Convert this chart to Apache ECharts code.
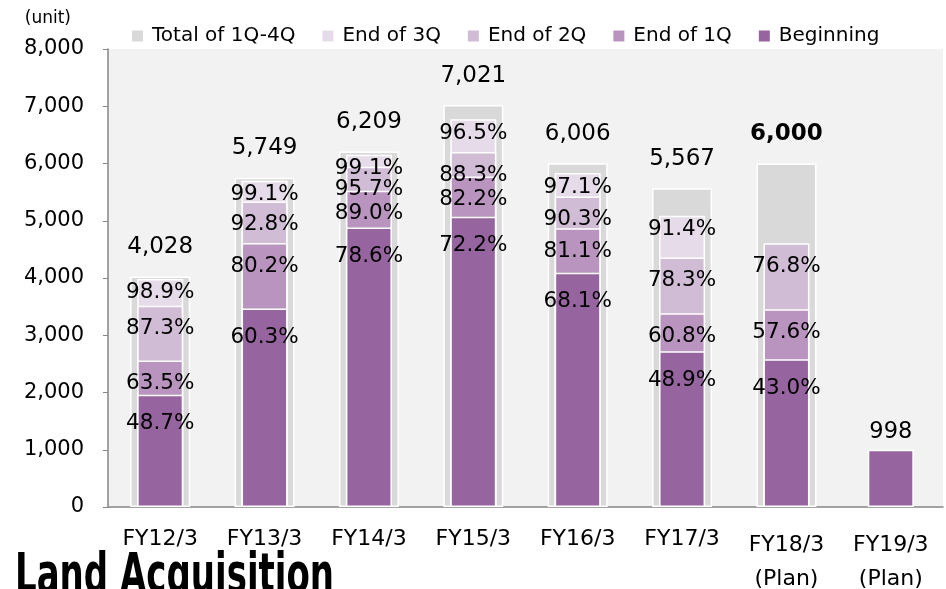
<!DOCTYPE html>
<html>
<head>
<meta charset="utf-8">
<script src="https://cdn.jsdelivr.net/npm/echarts@6/dist/echarts.min.js"></script>
<style>
  html, body { margin: 0; padding: 0; background: #fff; }
  #main { width: 946px; height: 589px; }
</style>
</head>
<body>
<div id="main"></div>
<script>
// categories and values
const categories = ['FY12/3', 'FY13/3', 'FY14/3', 'FY15/3', 'FY16/3', 'FY17/3', 'FY18/3\n(Plan)', 'FY19/3\n(Plan)'];
const totals = [4028, 5749, 6209, 7021, 6006, 5567, 6000, null];
// cumulative share of the year's total, in %
const pctBeginning = [48.7, 60.3, 78.6, 72.2, 68.1, 48.9, 43.0, null];
const pct1Q = [63.5, 80.2, 89.0, 82.2, 81.1, 60.8, 57.6, null];
const pct2Q = [87.3, 92.8, 95.7, 88.3, 90.3, 78.3, 76.8, null];
const pct3Q = [98.9, 99.1, 99.1, 96.5, 97.1, 91.4, null, null];
// FY19/3 only has units secured at the beginning
const beginningUnits = [null, null, null, null, null, null, null, 998];
const planIndex = 6; // FY18/3 total shown bold

const FONT = 'DejaVu Sans';
const colors = {
  total: '#d9d9d9',
  q3: '#e6dbe9',
  q2: '#d1bcd6',
  q1: '#b994bf',
  beg: '#96649e'
};

function units(pcts, i) {
  if (pcts[i] == null || totals[i] == null) return null;
  return Math.round(totals[i] * pcts[i] / 100);
}

function innerSeries(name, pcts, color, dist) {
  return {
    name: name,
    type: 'bar',
    xAxisIndex: 0,
    barWidth: 46,
    barGap: '-100%',
    itemStyle: { color: color, borderColor: '#fff', borderWidth: 1.5 },
    label: {
      show: true,
      position: 'insideTop',
      distance: dist,
      color: '#000',
      fontFamily: FONT,
      fontSize: 21.5,
      formatter: function (p) {
        const v = pcts[p.dataIndex];
        return v == null ? '' : v.toFixed(1) + '%';
      }
    },
    data: categories.map(function (c, i) { return units(pcts, i); })
  };
}

const begSeries = innerSeries('Beginning', pctBeginning, colors.beg, 18);
begSeries.data = categories.map(function (c, i) {
  if (beginningUnits[i] != null) {
    return {
      value: beginningUnits[i],
      label: { position: 'top', distance: 6, fontSize: 22.5, formatter: String(beginningUnits[i]) }
    };
  }
  return units(pctBeginning, i);
});

const chart = echarts.init(document.getElementById('main'));

const option = {
  animation: false,
  textStyle: { fontFamily: FONT },
  legend: {
    left: 125,
    top: 21,
    itemWidth: 13,
    itemHeight: 13,
    itemGap: 25,
    icon: 'rect',
    textStyle: { fontFamily: FONT, fontSize: 20, color: '#000', padding: [0, 0, 0, 3] },
    data: ['Total of 1Q-4Q', 'End of 3Q', 'End of 2Q', 'End of 1Q', 'Beginning']
  },
  grid: {
    left: 108,
    right: 3,
    top: 49,
    bottom: 82,
    outerBoundsMode: 'none',
    show: true,
    backgroundColor: '#f2f2f2',
    borderWidth: 0
  },
  xAxis: [
    {
      type: 'category',
      data: categories,
      axisLine: { lineStyle: { color: '#868686', width: 1.5 } },
      axisTick: { alignWithLabel: false, length: 6, lineStyle: { color: '#868686' } },
      axisLabel: {
        interval: 0,
        margin: 21,
        color: '#000',
        fontFamily: FONT,
        fontSize: 22,
        formatter: function (v) {
          if (v.indexOf('\n') < 0) return v;
          return v.split('\n').map(function (s) { return '{p|' + s + '}'; }).join('\n');
        },
        rich: { p: { fontFamily: FONT, fontSize: 22, lineHeight: 34, color: '#000' } }
      }
    },
    {
      type: 'category',
      data: categories,
      show: false
    }
  ],
  yAxis: {
    type: 'value',
    min: 0,
    max: 8000,
    interval: 1000,
    name: '(unit)',
    nameLocation: 'end',
    nameGap: 22,
    nameTextStyle: { color: '#000', fontFamily: FONT, fontSize: 17, align: 'right', padding: [0, 37, 0, 0] },
    axisLine: { show: true, lineStyle: { color: '#868686', width: 1.5 } },
    axisTick: { show: true, length: 5, lineStyle: { color: '#868686' } },
    splitLine: { show: false },
    axisLabel: { color: '#000', fontFamily: FONT, fontSize: 21, margin: 24 }
  },
  series: [
    {
      name: 'Total of 1Q-4Q',
      type: 'bar',
      xAxisIndex: 1,
      barWidth: 60,
      itemStyle: { color: colors.total, borderColor: '#fff', borderWidth: 1.5 },
      label: {
        show: true,
        position: 'top',
        distance: 18,
        color: '#000',
        fontFamily: FONT,
        fontSize: 23,
        formatter: function (p) { return p.value == null ? '' : p.value.toLocaleString('en-US'); }
      },
      data: totals.map(function (v, i) {
        if (i === planIndex) return { value: v, label: { fontWeight: 'bold' } };
        return v;
      })
    },
    innerSeries('End of 3Q', pct3Q, colors.q3, 3),
    innerSeries('End of 2Q', pct2Q, colors.q2, 12),
    innerSeries('End of 1Q', pct1Q, colors.q1, 12),
    begSeries
  ],
  graphic: [
    {
      type: 'text',
      left: 15,
      top: 551,
      scaleY: 1.6,
      style: {
        text: 'Land Acquisition',
        fill: '#000',
        font: 'bold 34px "DejaVu Sans"'
      }
    }
  ]
};

chart.setOption(option);
</script>
</body>
</html>
